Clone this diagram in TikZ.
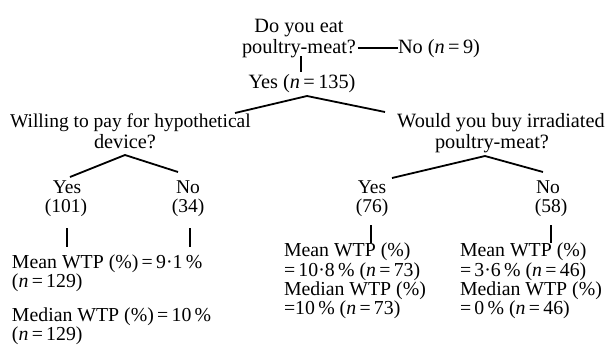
\documentclass[tikz,border=0pt]{standalone}
\usepackage{fontspec}
\setmainfont{Liberation Serif}
\begin{document}
\begin{tikzpicture}[x=1pt,y=-1pt,
  txt/.style={inner sep=0pt,outer sep=0pt,font=\fontsize{20.3}{20}\selectfont},
  lbl/.style={txt,font=\fontsize{19.5}{19}\selectfont},
  res/.style={txt,anchor=base west,font=\fontsize{19.8}{19}\selectfont},
  ln/.style={line width=1.8pt}]
\useasboundingbox (0,0) rectangle (616,356);
% top
\node[txt,anchor=base] (q1a) at (299,32) {Do you eat};
\node[txt,anchor=base] (q1b) at (299,53) {poultry-meat?};
\node[txt,anchor=base west] (no1) at (398,53) {No (\textit{n}\,=\,9)};
\draw[ln] (q1b.east |- 0,48) ++(2,0) coordinate (h1) -- (no1.west |- h1) coordinate (h2);
\node[txt,anchor=base] (yes1) at (302,88) {Yes (\textit{n}\,=\,135)};
\coordinate (v1a) at (301,56);
\coordinate (v1b) at (301,72);
\draw[ln] (v1a) -- (v1b);
% main split
\coordinate (ap1) at (307,96);
\coordinate (l1) at (235,113);
\coordinate (r1) at (385,112);
\draw[ln] (l1) -- (ap1) -- (r1);
% left question
\node[txt,anchor=base west,font=\fontsize{19.5}{20}\selectfont] (q2a) at (10,127) {Willing to pay for hypothetical};
\node[txt,anchor=base] (q2b) at (125,148) {device?};
\coordinate (ap2) at (125,155);
\coordinate (l2) at (70,177);
\coordinate (r2) at (178,172);
\draw[ln] (l2) -- (ap2) -- (r2);
\node[lbl,anchor=base] (y2) at (67,193) {Yes};
\node[lbl,anchor=base] (y2n) at (66,212) {(101)};
\node[lbl,anchor=base] (n2) at (188,193) {No};
\node[lbl,anchor=base] (n2n) at (188,212) {(34)};
\coordinate (v2a) at (67,228);
\coordinate (v2b) at (67,247);
\coordinate (v3a) at (190,228);
\coordinate (v3b) at (190,247);
\draw[ln] (v2a) -- (v2b);
\draw[ln] (v3a) -- (v3b);
\node[res] (m1) at (12,268) {Mean WTP (\%)\,=\,9·1\,\%};
\node[res] (m1n) at (12,287) {(\textit{n}\,=\,129)};
\node[res] (d1) at (12,321) {Median WTP (\%)\,=\,10\,\%};
\node[res] (d1n) at (12,340) {(\textit{n}\,=\,129)};
% right question
\node[txt,anchor=base] (q3a) at (501,127) {Would you buy irradiated};
\node[txt,anchor=base] (q3b) at (492,148) {poultry-meat?};
\coordinate (ap3) at (485,156);
\coordinate (l3) at (392,178);
\coordinate (r3) at (543,172);
\draw[ln] (l3) -- (ap3) -- (r3);
\node[lbl,anchor=base] (y3) at (372,193) {Yes};
\node[lbl,anchor=base] (y3n) at (372,212) {(76)};
\node[lbl,anchor=base] (n3) at (548,193) {No};
\node[lbl,anchor=base] (n3n) at (551,212) {(58)};
\coordinate (v4a) at (371,225);
\coordinate (v4b) at (371,243);
\coordinate (v5a) at (551,225);
\coordinate (v5b) at (551,243);
\draw[ln] (v4a) -- (v4b);
\draw[ln] (v5a) -- (v5b);
\node[res] (m2) at (284,256.5) {Mean WTP (\%)};
\node[res] (m2v) at (284,276) {=\,10·8\,\% (\textit{n}\,=\,73)};
\node[res] (d2) at (284,295) {Median WTP (\%)};
\node[res] (d2v) at (284,314) {=10\,\% (\textit{n}\,=\,73)};
\node[res] (m3) at (460,256.5) {Mean WTP (\%)};
\node[res] (m3v) at (460,276) {=\,3·6\,\% (\textit{n}\,=\,46)};
\node[res] (d3) at (460,295) {Median WTP (\%)};
\node[res] (d3v) at (460,314) {=\,0\,\% (\textit{n}\,=\,46)};
\end{tikzpicture}
\end{document}
